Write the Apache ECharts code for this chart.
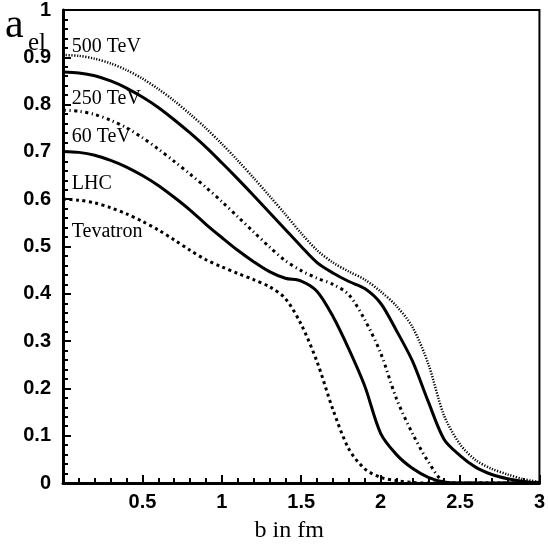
<!DOCTYPE html>
<html><head><meta charset="utf-8">
<script src="https://cdn.jsdelivr.net/npm/echarts@6/dist/echarts.min.js"></script>
<style>html,body{margin:0;padding:0;background:#fff}#c{width:548px;height:548px}</style>
</head><body><div id="c"></div>
<script>
// impact parameter b (fm)
const bValues = [0,0.1,0.2,0.3,0.4,0.5,0.6,0.7,0.8,0.9,1.0,1.1,1.2,1.3,1.4,1.5,1.6,1.7,1.8,1.9,2.0,2.1,2.2,2.3,2.4,2.5,2.6,2.7,2.8,2.9,3.0];
const a500TeV = [0.905,0.903,0.897,0.887,0.873,0.855,0.833,0.808,0.780,0.750,0.717,0.682,0.645,0.607,0.568,0.528,0.492,0.466,0.447,0.430,0.405,0.374,0.330,0.252,0.142,0.082,0.048,0.030,0.018,0.008,0.002];
const a250TeV = [0.869,0.867,0.861,0.850,0.835,0.816,0.794,0.768,0.740,0.710,0.677,0.643,0.608,0.572,0.536,0.500,0.466,0.444,0.426,0.411,0.380,0.322,0.258,0.172,0.092,0.058,0.033,0.018,0.009,0.003,0.000];
const a60TeV  = [0.788,0.786,0.779,0.767,0.751,0.730,0.706,0.680,0.653,0.625,0.595,0.563,0.531,0.499,0.470,0.449,0.433,0.420,0.398,0.345,0.275,0.178,0.105,0.045,0.003,0,0,0,0,0,0];
const aLHC    = [0.701,0.699,0.693,0.682,0.668,0.650,0.629,0.604,0.577,0.547,0.519,0.492,0.468,0.447,0.433,0.427,0.405,0.352,0.283,0.205,0.105,0.060,0.031,0.012,0.002,0,0,0,0,0,0];
const aTevatron = [0.600,0.598,0.592,0.582,0.569,0.553,0.535,0.514,0.492,0.472,0.457,0.443,0.430,0.415,0.390,0.335,0.256,0.155,0.072,0.030,0.012,0.005,0.001,0,0,0,0,0,0,0,0];
const seriesNames = ['500 TeV','250 TeV','60 TeV','LHC','Tevatron'];
const seriesValues = [a500TeV, a250TeV, a60TeV, aLHC, aTevatron];

// styles (kept apart from data)
const lineStyles = [
  {width: 2.5, type: [1.2, 1.6]},
  {width: 3, type: 'solid'},
  {width: 3, type: [3, 3.5, 1.2, 3.5]},
  {width: 3, type: 'solid'},
  {width: 3, type: [3, 3.5]}
];
// label anchor in data coordinates (left, vertical middle of text)
const labelAnchors = [[0.055,0.922],[0.055,0.813],[0.055,0.731],[0.055,0.632],[0.055,0.531]];

const chart = echarts.init(document.getElementById('c'), null, {renderer: 'canvas'});
const serif = '"Liberation Serif","Times New Roman",serif';
const sans = '"Liberation Sans",Arial,sans-serif';

chart.setOption({
  animation: false,
  backgroundColor: '#fff',
  grid: {left: 63, right: 3, top: 9, bottom: 54, show: true, borderColor: '#000', borderWidth: 2, backgroundColor: 'transparent'},
  xAxis: {
    type: 'value', min: 0, max: 3, interval: 0.5,
    axisLine: {lineStyle: {color: '#000', width: 3}},
    axisTick: {inside: true, length: 8, lineStyle: {color: '#000', width: 2}},
    minorTick: {show: true, splitNumber: 5, length: 5, lineStyle: {color: '#000', width: 2}},
    splitLine: {show: false},
    axisLabel: {showMinLabel: false, color: '#000', fontFamily: sans, fontWeight: 'bold', fontSize: 20, margin: 9},
    name: 'b in fm', nameLocation: 'middle', nameGap: 36,
    nameTextStyle: {color: '#000', fontFamily: serif, fontSize: 24, padding: [0, 24, 0, 0]}
  },
  yAxis: {
    type: 'value', min: 0, max: 1, interval: 0.1,
    axisLine: {lineStyle: {color: '#000', width: 3}},
    axisTick: {inside: true, length: 8, lineStyle: {color: '#000', width: 2}},
    minorTick: {show: true, splitNumber: 5, length: 5, lineStyle: {color: '#000', width: 2}},
    splitLine: {show: false},
    axisLabel: {color: '#000', fontFamily: sans, fontWeight: 'bold', fontSize: 20, margin: 12}
  },
  series: seriesNames.map((n, i) => ({
    name: n, type: 'line', showSymbol: false, smooth: 0.3,
    data: bValues.map((b, j) => [b, seriesValues[i][j]]),
    lineStyle: Object.assign({color: '#000', cap: 'butt'}, lineStyles[i]),
    clip: true, z: 3
  }))
});

const graphics = seriesNames.map((n, i) => {
  const p = chart.convertToPixel({gridIndex: 0}, labelAnchors[i]);
  return {type: 'text', x: p[0], y: p[1], z: 10,
    style: {text: n, fill: '#000', font: '20px ' + serif, textAlign: 'left', verticalAlign: 'middle'}};
});
graphics.push({type: 'text', x: 5, y: 26, z: 10,
  style: {text: 'a', fill: '#000', font: '42px ' + serif, textAlign: 'left', verticalAlign: 'middle'}});
graphics.push({type: 'text', x: 28, y: 43, z: 10,
  style: {text: 'el', fill: '#000', font: '25px ' + serif, textAlign: 'left', verticalAlign: 'middle'}});
chart.setOption({graphic: graphics});
</script>
</body></html>
